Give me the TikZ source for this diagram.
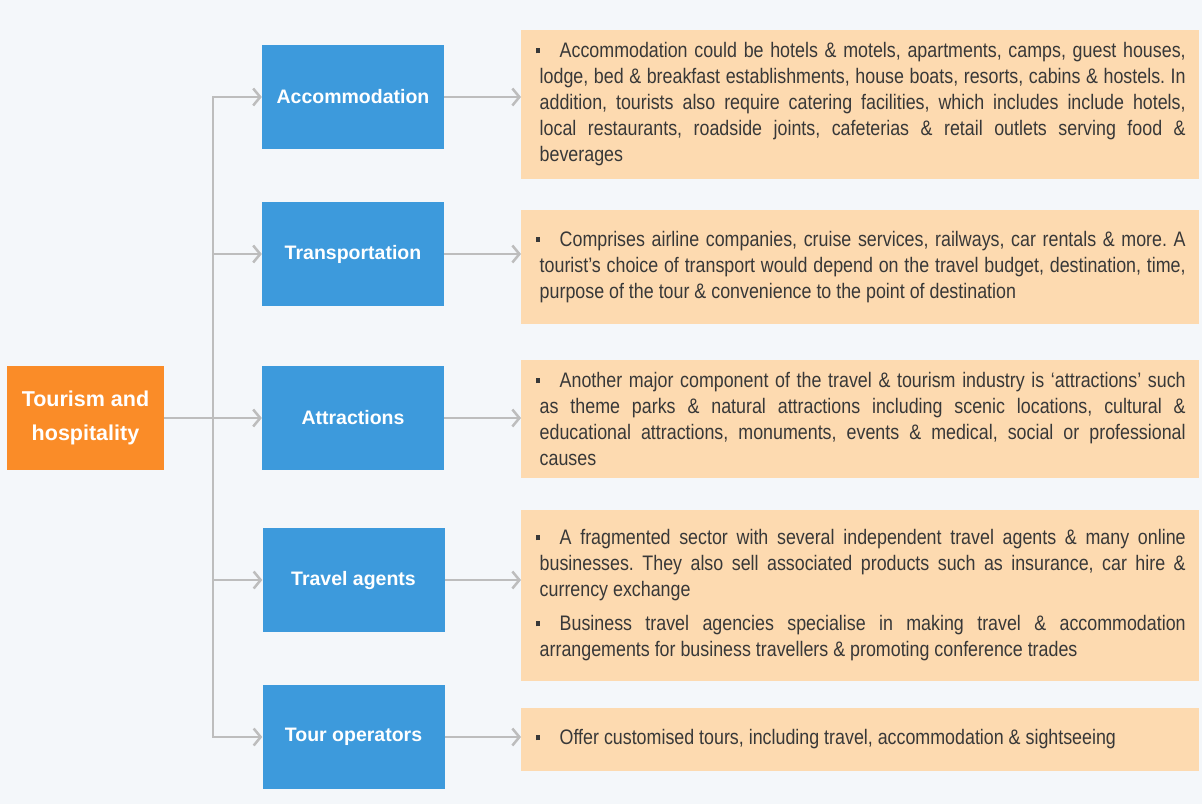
\documentclass[tikz,border=0pt]{standalone}
\usepackage{fontspec}
\setmainfont{Liberation Sans}
\newfontfamily\bodyfont{Liberation Sans}[FakeStretch=0.85]
\usetikzlibrary{arrows.meta}
\definecolor{bgc}{HTML}{F4F7FA}
\definecolor{bluec}{HTML}{3D9ADC}
\definecolor{orangec}{HTML}{FA8C28}
\definecolor{peach}{HTML}{FDDAB0}
\definecolor{arrowc}{HTML}{BDBDBD}
\definecolor{txtc}{HTML}{383838}
\newcommand\firstbul{\leftskip=5pt\relax\hspace*{-4pt}\makebox[24pt][l]{\rule[4.5pt]{4pt}{5pt}}}
\hyphenpenalty=10000
\exhyphenpenalty=10000
\frenchspacing
\tikzset{
  hubbox/.style={fill=orangec, text=white, font=\fontsize{21.5}{34}\selectfont\bfseries, align=center, minimum width=157pt, minimum height=104pt, inner sep=0pt},
  catbox/.style={fill=bluec, text=white, font=\fontsize{19.5}{24}\selectfont\bfseries, minimum width=182pt, minimum height=104pt, inner sep=0pt},
  descbox/.style={fill=peach, text=txtc, font={\bodyfont\fontsize{21}{26}\selectfont}, text width=651pt, inner xsep=13.5pt, inner ysep=0pt, align=justify, anchor=west, minimum height=#1},
  arr/.style={draw=arrowc, line width=2.5pt, -{Straight Barb[length=7pt,width=17pt]}},
  trunkline/.style={draw=arrowc, line width=2.5pt, line cap=rect}
}
\begin{document}
\begin{tikzpicture}[x=1pt,y=-1pt]
\fill[bgc] (0,0) rectangle (1202,804);
\useasboundingbox (0,0) rectangle (1202,804);

\node[hubbox] (th) at (85.5,418) {Tourism and\\hospitality};
\node[catbox] (acc) at (353,97) {Accommodation};
\node[catbox] (tra) at (353,254) {Transportation};
\node[catbox] (att) at (353,418) {Attractions};
\node[catbox] (tag) at (353.5,580) {Travel agents};
\node[catbox] (top) at (353.5,737) {Tour operators};

\node[descbox=149pt] (d1) at (521,104.5) {\firstbul Accommodation could be hotels \& motels, apartments, camps, guest houses,\linebreak lodge, bed \& breakfast establishments, house boats, resorts, cabins \& hostels. In\linebreak addition, tourists also require catering facilities, which includes include hotels,\linebreak local restaurants, roadside joints, cafeterias \& retail outlets serving food \&\linebreak beverages\par};
\node[descbox=114pt] (d2) at (521,267) {\firstbul Comprises airline companies, cruise services, railways, car rentals \& more. A\linebreak tourist’s choice of transport would depend on the travel budget, destination, time,\linebreak purpose of the tour \& convenience to the point of destination\par};
\node[descbox=118pt] (d3) at (521,419) {\firstbul Another major component of the travel \& tourism industry is ‘attractions’ such\linebreak as theme parks \& natural attractions including scenic locations, cultural \&\linebreak educational attractions, monuments, events \& medical, social or professional\linebreak causes\par};
\node[descbox=171pt] (d4) at (521,595.5) {\firstbul A fragmented sector with several independent travel agents \& many online\linebreak businesses. They also sell associated products such as insurance, car hire \&\linebreak currency exchange\par\vspace{8pt}\firstbul Business travel agencies specialise in making travel \& accommodation\linebreak arrangements for business travellers \& promoting conference trades\par};
\node[descbox=63pt] (d5) at (521,739.5) {\firstbul Offer customised tours, including travel, accommodation \& sightseeing\par};

\coordinate (j1) at (213,97);
\coordinate (j5) at (213,737);
\draw[trunkline] (j1) -- (j5);
\draw[arr] (th.east) -- (att.west);
\draw[arr] (j1) -- (acc.west);
\draw[arr] (j1 |- tra.west) -- (tra.west);
\draw[arr] (j1 |- tag.west) -- (tag.west);
\draw[arr] (j5) -- (top.west);

\draw[arr] (acc.east) -- (acc.east -| d1.west);
\draw[arr] (tra.east) -- (tra.east -| d2.west);
\draw[arr] (att.east) -- (att.east -| d3.west);
\draw[arr] (tag.east) -- (tag.east -| d4.west);
\draw[arr] (top.east) -- (top.east -| d5.west);
\end{tikzpicture}
\end{document}
